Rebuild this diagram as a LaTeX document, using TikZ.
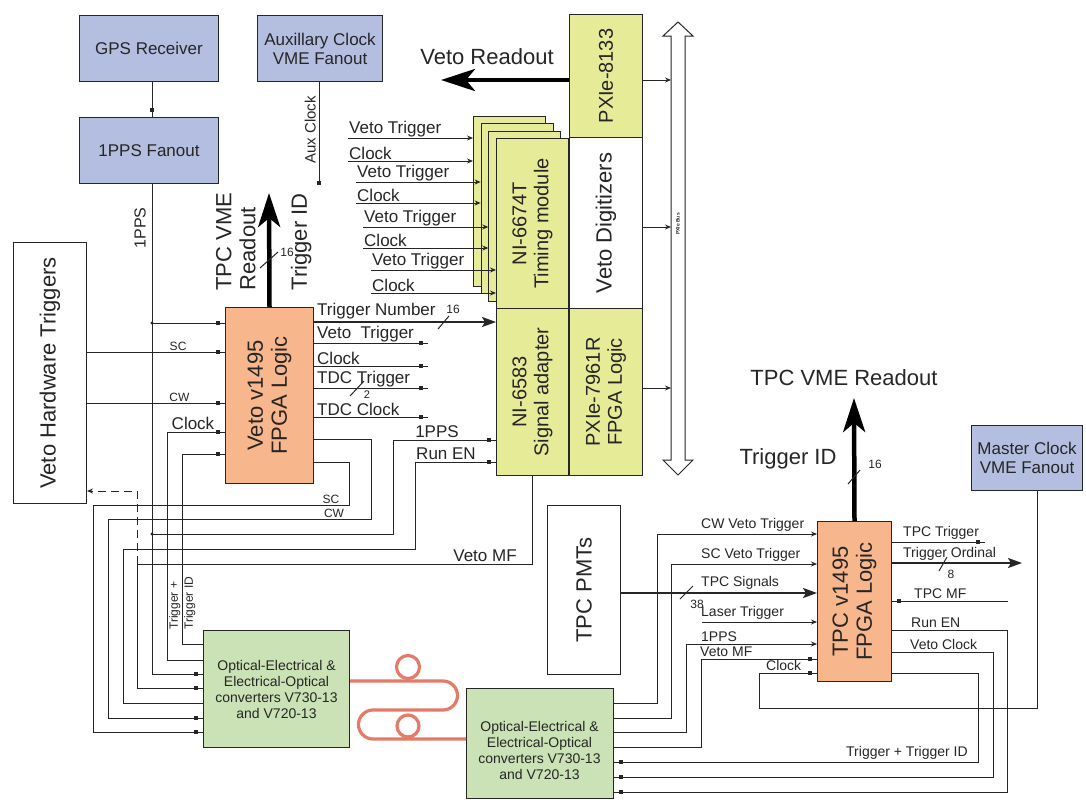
\documentclass[tikz,border=0pt]{standalone}
\usepackage{fontspec}
\setmainfont{Liberation Sans}
\usetikzlibrary{arrows.meta,positioning,calc,decorations.markings}
\definecolor{boxBlue}{RGB}{180,190,224}
\definecolor{boxOrange}{RGB}{248,182,140}
\definecolor{boxYellow}{RGB}{230,235,152}
\definecolor{boxGreen}{RGB}{202,226,182}
\definecolor{fiberRed}{RGB}{228,122,104}
\definecolor{wireGray}{RGB}{38,38,38}

\tikzset{
  box/.style={draw=wireGray, line width=1pt, inner sep=0pt, anchor=north west, align=center, text=wireGray},
  wire/.style={draw=wireGray, line width=1pt},
  dotin/.style={postaction={decorate}, decoration={markings,
      mark=at position -7pt with {\fill[wireGray] (-1.8pt,-1.8pt) rectangle (1.8pt,1.8pt);}}},
  arr/.style={-{Stealth[length=6pt,width=5pt]}},
  medarr/.style={draw=wireGray, line width=2.2pt, -{Stealth[length=14pt,width=10pt,inset=3pt]}},
  bigarr/.style={draw=black, line width=4.5pt, -{Stealth[length=34pt,width=22pt,inset=9pt]}},
  fiber/.style={draw=fiberRed, line width=3.2pt},
  rot/.style={rotate=90, align=center, text=wireGray},
  bigfont/.style={font=\fontsize{22}{24}\selectfont, text=wireGray},
  boxfont/.style={font=\fontsize{20}{22}\selectfont},
  bluefont/.style={font=\fontsize{17}{19}\selectfont},
  convfont/.style={font=\fontsize{14}{16}\selectfont},
  lbl/.style={font=\fontsize{17}{18}\selectfont, inner sep=1pt, text=wireGray},
  slbl/.style={font=\fontsize{14}{15}\selectfont, inner sep=1pt, text=wireGray},
  tlbl/.style={font=\fontsize{12}{13}\selectfont, inner sep=1pt, text=wireGray},
}

\begin{document}
\begin{tikzpicture}[x=1pt,y=-1pt]
\fill[white] (0,0) rectangle (1086,804);
\useasboundingbox (0,0) rectangle (1086,804);

% boxes
\node[box, fill=boxBlue, minimum width=139pt, minimum height=66pt, bluefont] (gps) at (79,15) {GPS Receiver};
\node[box, fill=boxBlue, minimum width=139pt, minimum height=66pt, bluefont] (pps) at (79,117) {1PPS Fanout};
\node[box, fill=boxBlue, minimum width=125pt, minimum height=66pt, bluefont] (aux) at (257,15) {Auxillary Clock\\VME Fanout};
\node[box, fill=boxBlue, minimum width=111pt, minimum height=65pt, bluefont] (master) at (971,425) {Master Clock\\VME Fanout};
\node[box, fill=white, minimum width=73pt, minimum height=261pt] (vht) at (13,242) {};
\node[box, fill=boxOrange, minimum width=88pt, minimum height=176pt] (vlogic) at (225,307) {};
\foreach \k in {0,1,2,3}{
  \node[box, fill=boxYellow, minimum width=72pt, minimum height=170pt] (tm\k) at ({473+7.67*\k},{116+7.33*\k}) {};
}
\node[box, fill=boxYellow, minimum width=73pt, minimum height=123pt] (pxi8133) at (569,14) {};
\node[box, fill=white, minimum width=73pt, minimum height=171pt] (vdig) at (569,137) {};
\node[box, fill=boxYellow, minimum width=72pt, minimum height=167pt] (ni6583) at (496,308) {};
\node[box, fill=boxYellow, minimum width=73pt, minimum height=167pt] (pxi7961) at (569,308) {};
\node[box, fill=white, minimum width=73pt, minimum height=169pt] (tpcpmt) at (547,505) {};
\node[box, fill=boxOrange, minimum width=74pt, minimum height=160pt] (tlogic) at (817,521) {};
\node[box, fill=boxGreen, minimum width=146pt, minimum height=117pt, convfont] (conv1) at (203,630)
  {Optical-Electrical \&\\Electrical-Optical\\converters V730-13\\and V720-13};
\node[box, fill=boxGreen, minimum width=147pt, minimum height=110pt] (conv2) at (466,688) {};
\node[convfont, align=center, text=wireGray] at (539.5,750)
  {Optical-Electrical \&\\Electrical-Optical\\converters V730-13\\and V720-13};

\node[rot, bigfont] at (vht) {Veto Hardware Triggers};
\node[rot, bigfont] at (vlogic) {Veto v1495\\FPGA Logic};
\node[rot, boxfont] at (tm3) {NI-6674T\\Timing module};
\node[rot, boxfont] at (pxi8133) {PXIe-8133};
\node[rot, bigfont] at (vdig) {Veto Digitizers};
\node[rot, boxfont] at (ni6583) {NI-6583\\Signal adapter};
\node[rot, boxfont] at (pxi7961) {PXIe-7961R\\FPGA Logic};
\node[rot, bigfont] at (tpcpmt) {TPC PMTs};
\node[rot, bigfont] at (tlogic) {TPC v1495\\FPGA Logic};

% PXIe bus
\draw[wire, fill=white] (671,36) -- (663,36) -- (678,22) -- (693,36) -- (685,36) -- (685,460)
  -- (693,460) -- (678,475) -- (663,460) -- (671,460) -- cycle;
\node[rotate=90, font=\bfseries\fontsize{5}{6}\selectfont, text=wireGray] at (678,224) {PXIe Bus};
\coordinate (bus) at (671,0);
\draw[wire, arr] (pxi8133.east |- 0,80) -- (bus |- 0,80);
\draw[wire, arr] (vdig.east |- 0,227) -- (bus |- 0,227);
\draw[wire, arr] (pxi7961.east |- 0,388) -- (bus |- 0,388);

\coordinate (vroEnd) at (441,80);
\draw[bigarr] (pxi8133.west |- vroEnd) -- (vroEnd);
\node[bigfont] at (487,57) {Veto Readout};

% clock distribution
\draw[wire, dotin] (152,0 |- gps.south) -- (152,0 |- pps.north);
\draw[wire, dotin] (152,0 |- pps.south) |- (conv1.west |- 0,674);
\draw[wire, dotin] (152,323) -- (vlogic.west |- 0,323);
\draw[wire, dotin] (152,534) -| (393,440) -- (ni6583.west |- 0,440);
\fill[wireGray] (152,323) circle (1.6pt) (152,534) circle (1.6pt);
\node[lbl, font=\fontsize{16}{17}\selectfont, rotate=90, anchor=south] at (147,228) {1PPS};
\node[lbl, anchor=south] at (437,439) {1PPS};

\coordinate (auxEnd) at (319,185);
\draw[wire, -{Square[length=4pt,width=4pt]}] (auxEnd |- aux.south) -- (auxEnd);
\node[lbl, font=\fontsize{15}{16}\selectfont, rotate=90, anchor=south] at (317,130) {Aux Clock};

% veto v1495 inputs
\draw[wire, dotin] (vht.east |- 0,352) -- (vlogic.west |- 0,352) node[tlbl, pos=0.66, above] {SC};
\draw[wire, dotin] (vht.east |- 0,403) -- (vlogic.west |- 0,403) node[tlbl, pos=0.67, above] {CW};
\draw[wire, dotin] (conv1.west |- 0,660) -| (167,432) -- (vlogic.west |- 0,432);
\draw[wire, dotin] (conv1.west |- 0,644) -| (182,454) -- (vlogic.west |- 0,454);
\node[lbl, anchor=south] at (193,431) {Clock};
\node[tlbl, rotate=90, anchor=north west] at (168,631) {Trigger +};
\node[tlbl, rotate=90, anchor=north west] at (183,631) {Trigger ID};

\coordinate (vmeEnd) at (269,193);
\draw[bigarr] (vlogic.north) -- (vmeEnd);
\node[rot, bigfont, align=left, anchor=south west] at (259,294) {TPC VME\\Readout};
\node[rot, bigfont, anchor=south west] at (315,294) {Trigger ID};
\draw[wire] (260,268) -- (278,252);
\node[tlbl] at (287,252) {16};

% veto v1495 outputs
\draw[medarr] (vlogic.east |- 0,322) -- (ni6583.west |- 0,322);
\node[lbl, anchor=south west] at (316,320) {Trigger Number};
\draw[wire] (438,329) -- (449,316);
\node[tlbl] at (453,309) {16};
\foreach \y/\txt in {343/Veto~~Trigger, 366/Clock, 388/TDC Trigger, 417/TDC Clock}{
  \coordinate (vout\y) at (428,\y);
  \draw[wire, dotin] (vlogic.east |- vout\y) -- (vout\y);
  \node[lbl, anchor=south west] at (316,\y) {\txt};
}
\draw[wire] (350,396) -- (364,381);
\node[tlbl, font=\fontsize{11}{12}\selectfont] at (367,395) {2};

\draw[wire, dotin] (vlogic.east |- 0,462) -| (349,505) -| (93,732) -- (conv1.west |- 0,732);
\draw[wire, dotin] (vlogic.east |- 0,439) -| (371,519) -| (108,718) -- (conv1.west |- 0,718);
\node[tlbl, anchor=south] at (331,505) {SC};
\node[tlbl, anchor=south] at (334,519) {CW};

\draw[wire, dotin] (conv1.west |- 0,703) -| (123,549) -| (415,462) -- (ni6583.west |- 0,462);
\node[lbl, anchor=south] at (446,461) {Run EN};
\draw[wire, dotin] (532,0 |- ni6583.south) |- (137,564) |- (conv1.west |- 0,688);
\draw[wire, dash pattern=on 8pt off 5pt, -{Stealth[length=6pt,width=5pt]}] (137,564) |- (vht.east |- 0,491);
\node[lbl, anchor=south] at (485,563) {Veto MF};

% timing module inputs
\foreach \k/\ya/\yb/\xs in {0/138/161/348, 1/182/203/356, 2/227/248/363, 3/270/293/371}{
  \coordinate (vt\k) at (\xs,\ya);
  \coordinate (ck\k) at (\xs,\yb);
  \draw[wire, arr] (vt\k) -- (tm\k.west |- vt\k);
  \draw[wire, arr] (ck\k) -- (tm\k.west |- ck\k);
  \node[lbl, anchor=south west] at (vt\k) {Veto Trigger};
  \node[lbl, anchor=south west] at (ck\k) {Clock};
}

% optical link
\draw[fiber] (conv1.east |- 0,681) -- (443,681) arc[start angle=-90, end angle=90, radius=14.5]
  -- (373,710) arc[start angle=-90, end angle=-270, radius=14.5] -- (conv2.west |- 0,739);
\draw[fiber] (408,667) circle (11.5);
\draw[fiber] (408,726) circle (11);

% tpc v1495 inputs
\draw[medarr] (tpcpmt.east |- 0,593) -- (tlogic.west |- 0,593);
\node[slbl, anchor=south west] at (700,591) {TPC Signals};
\draw[wire] (680,599) -- (693,586);
\node[tlbl] at (697,604) {38};
\draw[wire, arr] (conv2.east |- 0,703) -| (657,534) -- (tlogic.west |- 0,534);
\draw[wire, arr] (conv2.east |- 0,718) -| (671,564) -- (tlogic.west |- 0,564);
\draw[wire, arr] (conv2.east |- 0,732) -| (686,644) -- (tlogic.west |- 0,644);
\draw[wire, dotin] (conv2.east |- 0,747) -| (701,659) -- (tlogic.west |- 0,659);
\coordinate (laser) at (702,622);
\draw[wire, arr] (laser) -- (tlogic.west |- laser);
\node[slbl, anchor=south west] at (700,533) {CW Veto Trigger};
\node[slbl, anchor=south west] at (700,563) {SC Veto Trigger};
\node[slbl, anchor=south west] at (700,621) {Laser Trigger};
\node[slbl, anchor=south west] at (700,643) {1PPS};
\node[slbl, anchor=south west] at (699,658) {Veto MF};
\draw[wire, dotin] (1037,0 |- master.south) |- (759,708) |- (tlogic.west |- 0,673);
\node[slbl, anchor=south west] at (765,672) {Clock};

\coordinate (tvmeEnd) at (854,398);
\draw[bigarr] (tlogic.north) -- (tvmeEnd);
\node[bigfont] at (844,378) {TPC VME Readout};
\node[bigfont] at (788,459) {Trigger ID};
\draw[wire] (848,484) -- (860,470);
\node[tlbl] at (875,464) {16};

% tpc v1495 outputs
\coordinate (tpcTrig) at (985,542);
\draw[wire, dotin] (tlogic.east |- tpcTrig) -- (tpcTrig);
\coordinate (ordEnd) at (1022,563);
\draw[medarr] (tlogic.east |- ordEnd) -- (ordEnd);
\draw[wire] (939,571) -- (947,557);
\node[tlbl] at (951,574) {8};
\coordinate (tpcMF) at (1008,601);
\draw[wire, dotin] (tpcMF) -- (tlogic.east |- tpcMF);
\draw[wire, dotin] (tlogic.east |- 0,630) -| (1007,792) -- (conv2.east |- 0,792);
\draw[wire, dotin] (tlogic.east |- 0,652) -| (993,777) -- (conv2.east |- 0,777);
\draw[wire, dotin] (tlogic.east |- 0,673) -| (978,762) -- (conv2.east |- 0,762);
\node[slbl, anchor=south west] at (902,541) {TPC Trigger};
\node[slbl, anchor=south west] at (902,562) {Trigger Ordinal};
\node[slbl, anchor=south west] at (913,600) {TPC MF};
\node[slbl, anchor=south west] at (910,629) {Run EN};
\node[slbl, anchor=south west] at (909,651) {Veto Clock};
\node[slbl, anchor=south west] at (845,761) {Trigger + Trigger ID};
\end{tikzpicture}
\end{document}
